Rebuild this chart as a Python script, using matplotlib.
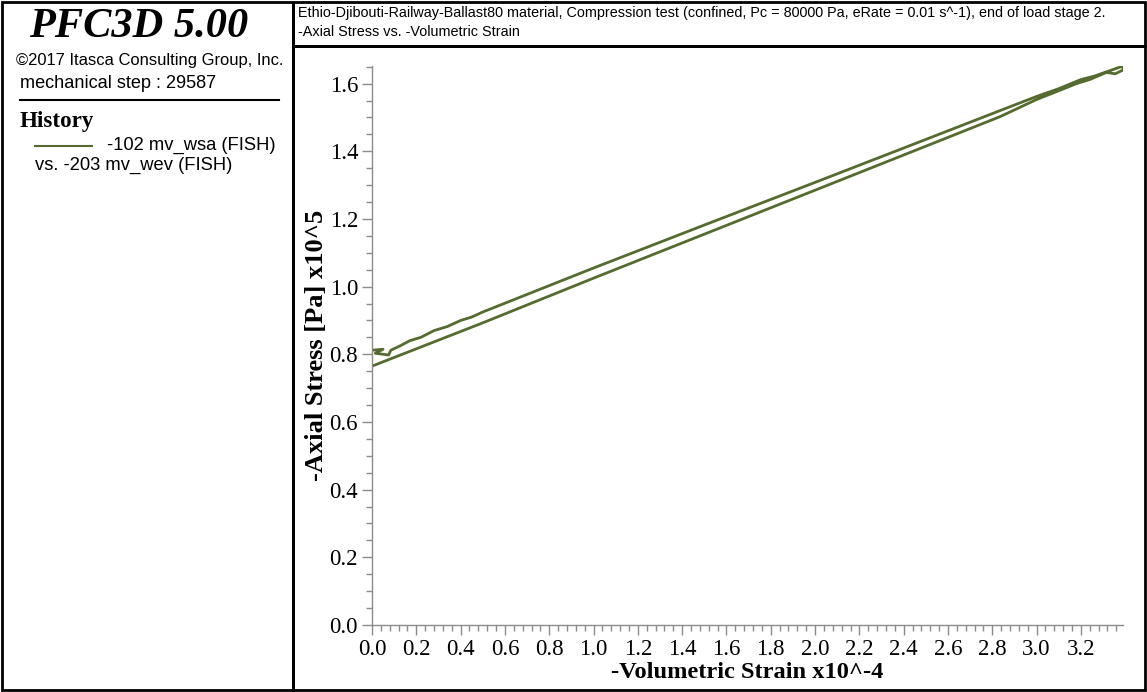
import matplotlib
matplotlib.use("Agg")
import matplotlib.pyplot as plt
from matplotlib.ticker import MultipleLocator, FormatStrFormatter
from matplotlib.lines import Line2D
from matplotlib.patches import Rectangle

# History 203 (-volumetric strain, x10^-4) vs history 102 (-axial stress, x10^5 Pa)
vol_strain = [
    0.000, 0.050, 0.015, 0.075, 0.085, 0.130, 0.170, 0.220, 0.280, 0.340,
    0.400, 0.450, 0.500, 1.000, 1.500, 2.000, 2.500, 2.834, 3.000, 3.100,
    3.200, 3.260, 3.330, 3.390, 3.390, 3.355, 3.315, 3.240, 3.180, 3.135,
    3.000, 2.834, 2.500, 2.000, 1.500, 1.000, 0.500, 0.000,
]
axial_stress = [
    0.812, 0.815, 0.803, 0.798, 0.812, 0.826, 0.840, 0.850, 0.870, 0.882,
    0.900, 0.910, 0.925, 1.055, 1.182, 1.308, 1.435, 1.520, 1.562, 1.585,
    1.612, 1.622, 1.638, 1.652, 1.640, 1.629, 1.633, 1.612, 1.600, 1.588,
    1.553, 1.502, 1.415, 1.285, 1.155, 1.025, 0.893, 0.765,
]

x_ticks = [0.0, 0.2, 0.4, 0.6, 0.8, 1.0, 1.2, 1.4, 1.6, 1.8, 2.0, 2.2, 2.4,
           2.6, 2.8, 3.0, 3.2]
y_ticks = [0.0, 0.2, 0.4, 0.6, 0.8, 1.0, 1.2, 1.4, 1.6]

title_line1 = ("Ethio-Djibouti-Railway-Ballast80 material, Compression test "
               "(confined, Pc = 80000 Pa, eRate = 0.01 s^-1), end of load stage 2.")
title_line2 = "-Axial Stress vs. -Volumetric Strain"

LINE_COLOR = "#556b2f"
SERIF = ["Liberation Serif", "DejaVu Serif"]
SANS = ["Liberation Sans", "DejaVu Sans"]

W, H = 1147, 692
fig = plt.figure(figsize=(W / 100, H / 100), dpi=100)


def fx(px):
    return px / W


def fy(py):
    return 1 - py / H


# frames: info panel, title strip, plot panel
for (x0, y0, x1, y1) in [(2, 2, 293, 690), (293, 2, 1145, 46), (293, 46, 1145, 690)]:
    fig.add_artist(Rectangle((fx(x0), fy(y1)), fx(x1 - x0), (y1 - y0) / H,
                             transform=fig.transFigure, fill=False,
                             edgecolor="black", linewidth=2.0))

# info panel
fig.text(fx(139), fy(27), "PFC3D 5.00", family=SERIF, weight="bold",
         style="italic", fontsize=30.5, ha="center", va="center")
fig.text(fx(16), fy(60), "\u00a92017 Itasca Consulting Group, Inc.",
         family=SANS, fontsize=11.9, ha="left", va="center")
fig.text(fx(20), fy(84), "mechanical step : 29587",
         family=SANS, fontsize=13.1, ha="left", va="center")
fig.add_artist(Line2D([fx(20), fx(279)], [fy(100), fy(100)],
                      transform=fig.transFigure, color="black", linewidth=1.5))
fig.text(fx(20), fy(121), "History", family=SERIF, weight="bold",
         fontsize=16.6, ha="left", va="center")
fig.add_artist(Line2D([fx(35), fx(92)], [fy(146), fy(146)],
                      transform=fig.transFigure, color=LINE_COLOR, linewidth=1.5))
fig.text(fx(107), fy(145), "-102 mv_wsa (FISH)",
         family=SANS, fontsize=13.2, ha="left", va="center")
fig.text(fx(35), fy(165), "vs. -203 mv_wev (FISH)",
         family=SANS, fontsize=13.2, ha="left", va="center")

# title strip
fig.text(fx(298), fy(13), title_line1, family=SANS, fontsize=10.4,
         ha="left", va="center")
fig.text(fx(298), fy(32), title_line2, family=SANS, fontsize=10.4,
         ha="left", va="center")

# plot
ax = fig.add_axes([fx(372), fy(625), fx(1123 - 372), (625 - 66) / H])
ax.plot(vol_strain, axial_stress, color=LINE_COLOR, linewidth=2.0,
        solid_joinstyle="round")
ax.set_xlim(0.0, max(vol_strain))
ax.set_ylim(0.0, max(axial_stress))
ax.set_xticks(x_ticks)
ax.set_yticks(y_ticks)
ax.xaxis.set_minor_locator(MultipleLocator(0.04))
ax.yaxis.set_minor_locator(MultipleLocator(0.05))
ax.xaxis.set_major_formatter(FormatStrFormatter("%.1f"))
ax.yaxis.set_major_formatter(FormatStrFormatter("%.1f"))
for s in ("top", "right"):
    ax.spines[s].set_visible(False)
for s in ("left", "bottom"):
    ax.spines[s].set_color("#8c8c8c")
    ax.spines[s].set_linewidth(1.0)
ax.tick_params(which="major", length=7, width=1, color="#8c8c8c",
               labelsize=16.5, pad=3)
ax.tick_params(which="minor", length=4, width=1, color="#8c8c8c")
for lab in ax.get_xticklabels() + ax.get_yticklabels():
    lab.set_family(SERIF)

fig.text(fx(747), fy(672), "-Volumetric Strain x10^-4", family=SERIF,
         weight="bold", fontsize=17.6, ha="center", va="center")
fig.text(fx(316), fy(345), "-Axial Stress [Pa] x10^5", family=SERIF,
         weight="bold", fontsize=19, ha="center", va="center", rotation=90)

fig.savefig("out.png", dpi=100)
